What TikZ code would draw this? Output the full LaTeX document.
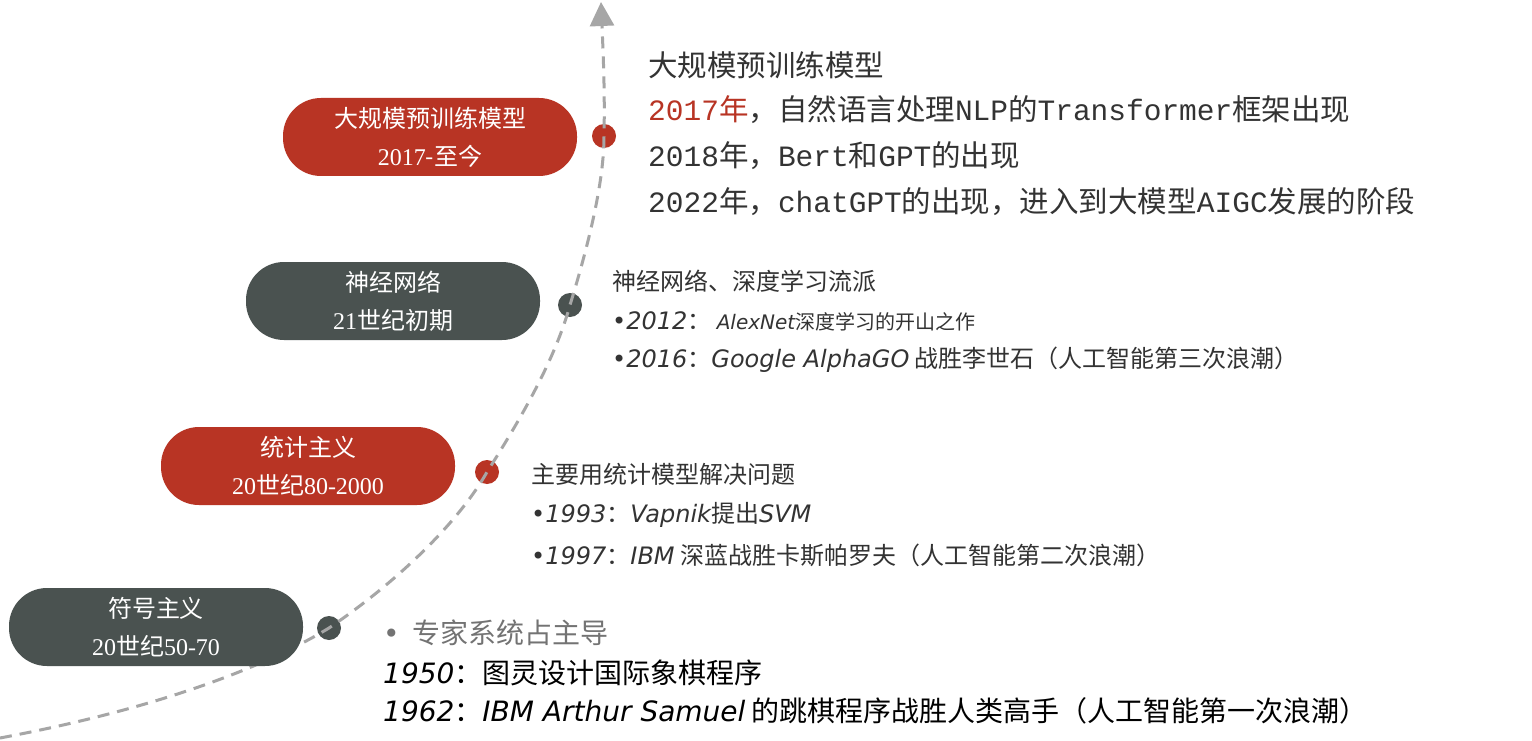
\documentclass[tikz,border=0pt]{standalone}
\usepackage{fontspec}
\setmainfont{Noto Sans CJK SC}
\newfontfamily\mono{Liberation Mono}
\newfontfamily\lat{Liberation Serif}
\newfontfamily\itl{DejaVu Sans}
\newcommand{\il}[1]{{\itl\itshape #1}}
\usetikzlibrary{arrows.meta}
\definecolor{cred}{HTML}{B83424}
\definecolor{cgray}{HTML}{4A5250}
\definecolor{ctxt}{HTML}{333333}
\definecolor{cline}{HTML}{A6A6A6}
\tikzset{
 pill/.style={rounded corners=38pt,minimum width=294pt,minimum height=78pt,text=white,align=center,font=\fontsize{24}{38}\selectfont},
 dotn/.style={circle,minimum size=24pt,inner sep=0pt},
 txt/.style={anchor=west,inner sep=0pt,text=ctxt},
}
\begin{document}
\begin{tikzpicture}[x=1pt,y=-1pt]
\useasboundingbox[fill=white] (0,0) rectangle (1532,741);
\coordinate (s) at (0,738);
\coordinate (t) at (601,2);
\node[dotn,fill=cred] (d1) at (604,136) {};
\node[dotn,fill=cgray] (d2) at (570,305) {};
\node[dotn,fill=cred] (d3) at (487,472) {};
\node[dotn,fill=cgray] (d4) at (329,628) {};
\draw[cline,line width=3pt,dash pattern=on 12pt off 8pt,-{Triangle[length=24pt,width=24pt]}]
 (s) .. controls (150,710) and (260,670) .. (d4.center)
 .. controls (400,580) and (460,520) .. (d3.center)
 .. controls (520,420) and (555,360) .. (d2.center)
 .. controls (590,240) and (604,180) .. (d1.center)
 .. controls (605,90) and (603,50) .. (t);
\node[pill,fill=cred] (p1) at (430,137) {大规模预训练模型\\{\lat 2017}-至今};
\node[pill,fill=cgray] (p2) at (393,301) {神经网络\\{\lat 21}世纪初期};
\node[pill,fill=cred] (p3) at (308,466) {统计主义\\{\lat 20}世纪{\lat 80-2000}};
\node[pill,fill=cgray] (p4) at (156,627) {符号主义\\{\lat 20}世纪{\lat 50-70}};
\begin{scope}[font=\fontsize{29.5}{34}\selectfont]
\node[txt] (a1) at (648,65) {大规模预训练模型};
\node[txt] (a2) at (648,110) {{\color{cred}\mono 2017}{\color{cred}年}，自然语言处理{\mono NLP}的{\mono Transformer}框架出现};
\node[txt] (a3) at (648,156) {{\mono 2018}年，{\mono Bert}和{\mono GPT}的出现};
\node[txt] (a4) at (648,202) {{\mono 2022}年，{\mono chatGPT}的出现，进入到大模型{\mono AIGC}发展的阶段};
\end{scope}
\begin{scope}[font=\fontsize{24}{30}\selectfont]
\node[txt] (b1) at (612,281) {神经网络、深度学习流派};
\node[txt] (b2) at (612,321) {{\itl •}\il{2012}：\ {\fontsize{20}{24}\selectfont\il{AlexNet}深度学习的开山之作}};
\node[txt] (b3) at (612,360) {{\itl •}\il{2016}：\il{Google AlphaGO} 战胜李世石（人工智能第三次浪潮）};
\node[txt] (c1) at (531,474) {主要用统计模型解决问题};
\node[txt] (c2) at (531,515) {{\itl •}\il{1993}：\il{Vapnik}提出\il{SVM}};
\node[txt] (c3) at (531,555) {{\itl •}\il{1997}：\il{IBM} 深蓝战胜卡斯帕罗夫（人工智能第二次浪潮）};
\end{scope}
\begin{scope}[font=\fontsize{28}{34}\selectfont]
\node[txt,text=gray!90!black] (e1) at (383,633) {{\itl •}\ \ 专家系统占主导};
\node[txt,text=black] (e2) at (383,673) {\il{1950}：图灵设计国际象棋程序};
\node[txt,text=black] (e3) at (383,711) {\il{1962}：\il{IBM Arthur Samuel} 的跳棋程序战胜人类高手（人工智能第一次浪潮）};
\end{scope}
\end{tikzpicture}
\end{document}
